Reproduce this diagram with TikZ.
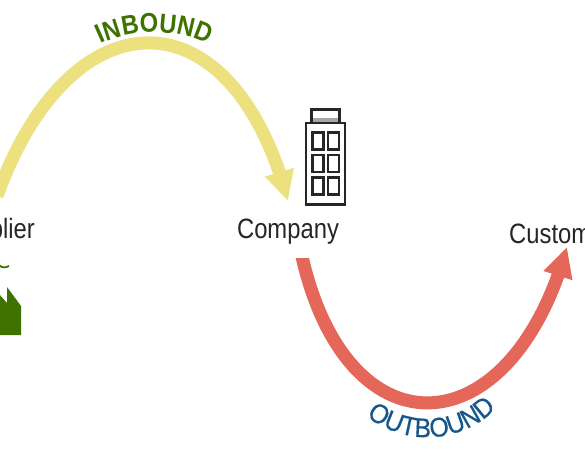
\documentclass[tikz,border=0pt]{standalone}
\usepackage{fontspec}
\setmainfont{Liberation Sans}
\newfontfamily\tallfont[FakeStretch=0.85]{Liberation Sans}
\newfontfamily\inlabelfont[FakeStretch=0.88]{Liberation Sans}
\newfontfamily\outlabelfont[FakeStretch=0.92,FakeBold=0.5]{Liberation Sans}
\usetikzlibrary{arrows.meta,decorations.text,bending}
\definecolor{inyellow}{HTML}{EDE17F}
\definecolor{outred}{HTML}{E4675A}
\definecolor{ingreen}{HTML}{3F7300}
\definecolor{outblue}{HTML}{15578C}
\tikzset{
  place/.style={font=\tallfont\fontsize{28}{30}\selectfont, text=black!85, anchor=base, inner sep=0pt},
  flowarrow/.style={line width=#1, -{Triangle[length=30pt,width=28pt,flex=1]}},
  curvedlabel/.style={decorate, decoration={text along path, text align=center, raise=0pt, text={#1}}},
  bldg/.style={draw=black!85, line width=2.4pt, fill=white},
}
\begin{document}
\begin{tikzpicture}[x=1pt,y=-1pt]
\clip (0,0) rectangle (585,450);
\fill[white] (0,0) rectangle (585,450);
% places
\node[place,anchor=base east] (supplier) at (35,238) {Supplier};
\node[place] (company) at (288,238) {Company};
\node[place,anchor=base west] (customer) at (509,243) {Customer};
\coordinate (inStart) at (-3,196);
\coordinate (inEnd) at (288,201);
\coordinate (outStart) at (301,252);
\coordinate (outEnd) at (567,247);
% connectors
\draw[inyellow,flowarrow=13pt] (inStart) .. controls (70,-7) and (232,-11) .. (inEnd);
\begin{scope}
\clip (290,258) -- (420,258) -- (420,235) -- (585,235) -- (585,450) -- (290,450) -- cycle;
\draw[outred,flowarrow=13pt] (outStart) .. controls (345,456) and (510,452) .. (outEnd);
\end{scope}
% curved labels
\path[curvedlabel={|\inlabelfont\fontsize{27}{29}\selectfont\bfseries\color{ingreen}|INBOUND}]
  (77,60) .. controls (117,23) and (192,23) .. (232,60);
\path[curvedlabel={|\outlabelfont\fontsize{27}{29}\selectfont\color{outblue}|OUTBOUND}]
  (345,395) .. controls (390,453) and (473,453) .. (515,385);
% building
\draw[bldg] (311.5,109.5) rectangle (339.5,123);
\fill[black!35] (313,118) rectangle (338,122);
\draw[bldg] (306,123) rectangle (345,204.5);
\foreach \wx in {312.5,328} \foreach \wy in {132.5,155,177.5}
  \draw[bldg] (\wx,\wy) rectangle ++(11,17);
% factory
\fill[ingreen] (-1,335) -- (21,335) -- (21,306) -- (7,287) -- (7,303) -- (-1,294) -- cycle;
\draw[ingreen,line width=1.8pt] (-1,265) .. controls (2,268) and (5,268) .. (9,266);
\end{tikzpicture}
\end{document}
